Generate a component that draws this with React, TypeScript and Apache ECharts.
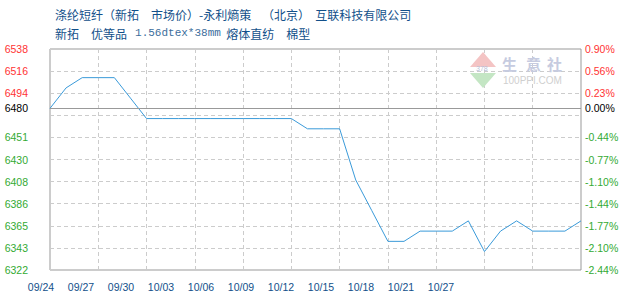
import React, { useEffect, useRef } from 'react';
import * as echarts from 'echarts';

const dates = [
  '09/24', '09/25', '09/26', '09/27', '09/28', '09/29', '09/30',
  '10/01', '10/02', '10/03', '10/04', '10/05', '10/06', '10/07', '10/08', '10/09',
  '10/10', '10/11', '10/12', '10/13', '10/14', '10/15', '10/16', '10/17', '10/18',
  '10/19', '10/20', '10/21', '10/22', '10/23', '10/24', '10/25', '10/26', '10/27',
];
const prices = [
  6480, 6500, 6510, 6510, 6510, 6490, 6470,
  6470, 6470, 6470, 6470, 6470, 6470, 6470, 6470, 6470,
  6460, 6460, 6460, 6410, 6380, 6350, 6350, 6360, 6360,
  6360, 6370, 6340, 6360, 6370, 6360, 6360, 6360, 6370,
];
const basePrice = 6480;
const yTicks = [6322, 6343.6, 6365.2, 6386.8, 6408.4, 6430, 6451.6, 6473.2, 6494.8, 6516.4, 6538];
const leftLabels = ['6322', '6343', '6365', '6386', '6408', '6430', '6451', '', '6494', '6516', '6538'];
const rightLabels = ['-2.44%', '-2.10%', '-1.77%', '-1.44%', '-1.10%', '-0.77%', '-0.44%', '', '0.23%', '0.56%', '0.90%'];
const xTickLabels = ['09/24', '09/27', '09/30', '10/03', '10/06', '10/09', '10/12', '10/15', '10/18', '10/21', '10/27'];
const titleLine1 = '涤纶短纤（新拓　市场价）-永利熵策    （北京）  互联科技有限公司';
const titleLine2 = '新拓　优等品   {m|1.56dtex*38mm}  熔体直纺　棉型';

export default function App() {
  const ref = useRef<HTMLDivElement>(null);
  useEffect(() => {
    document.body.style.margin = '0';
    const chart = echarts.init(ref.current!, null, { renderer: 'svg' });
    const labelFont = { fontSize: 10.5, fontFamily: 'Liberation Sans' };
    const findIdx = (v: number) => yTicks.findIndex((t) => Math.abs(t - Number(v)) < 0.01);
    const colorKey = (v: number) => (v > basePrice ? 'r' : v < basePrice ? 'g' : 'k');
    const rich = {
      r: { color: '#ff3333', ...labelFont },
      g: { color: '#33aa33', ...labelFont },
      k: { color: '#000000', ...labelFont },
    };
    chart.setOption({
      animation: false,
      title: {
        left: 50,
        top: 3,
        text: titleLine1,
        textStyle: { fontSize: 12, fontWeight: 'normal', color: '#12508a', fontFamily: 'Noto Sans CJK SC' },
        subtext: titleLine2,
        subtextStyle: {
          fontSize: 12,
          color: '#12508a',
          fontFamily: 'Noto Sans CJK SC',
          rich: {
            m: { fontSize: 11, fontFamily: 'Liberation Mono', color: '#3c6d9c' },
          },
        },
        itemGap: 7,
      },
      grid: [
        { left: 50, right: 49, top: 49, bottom: 30, show: true, borderColor: '#999', borderWidth: 1, backgroundColor: 'transparent' },
        { left: 41, width: 400, top: 269, height: 1 },
      ],
      xAxis: [
        {
          type: 'category',
          gridIndex: 0,
          data: dates,
          boundaryGap: false,
          axisLine: { show: false },
          axisTick: { show: false },
          axisLabel: { show: false },
          splitLine: { show: true, interval: 2, lineStyle: { color: '#cccccc', type: [4, 3], width: 1 } },
        },
        {
          type: 'category',
          gridIndex: 1,
          data: xTickLabels,
          boundaryGap: false,
          axisLine: { show: false },
          axisTick: { show: false },
          axisLabel: { interval: 0, margin: 11, color: '#12508a', ...labelFont },
          splitLine: { show: false },
        },
      ],
      yAxis: [
        {
          type: 'value',
          gridIndex: 0,
          min: 6322,
          max: 6538,
          position: 'left',
          axisLine: { show: false },
          axisTick: { show: false, customValues: yTicks },
          axisLabel: {
            customValues: yTicks,
            margin: 22,
            formatter: (v: number) => {
              const i = findIdx(v);
              const s = i >= 0 ? leftLabels[i] : '';
              return s ? `{${colorKey(v)}|${s}}` : '';
            },
            rich,
          },
          splitLine: { show: true, lineStyle: { color: '#cccccc', type: [4, 3], width: 1 } },
        },
        {
          type: 'value',
          gridIndex: 0,
          min: 6322,
          max: 6538,
          position: 'right',
          axisLine: { show: false },
          axisTick: { show: false, customValues: yTicks },
          axisLabel: {
            customValues: yTicks,
            margin: 4,
            formatter: (v: number) => {
              const i = findIdx(v);
              const s = i >= 0 ? rightLabels[i] : '';
              return s ? `{${colorKey(v)}|${s}}` : '';
            },
            rich,
          },
          splitLine: { show: false },
        },
        { type: 'value', gridIndex: 1, show: false },
      ],
      graphic: [
        { type: 'polygon', shape: { points: [[470, 67], [496, 67], [483, 52]] }, style: { fill: '#f4c4c4' }, z: 1 },
        { type: 'polygon', shape: { points: [[470, 73], [496, 73], [483, 88]] }, style: { fill: '#c4e6c4' }, z: 1 },
        { type: 'text', x: 476, y: 65, style: { text: '378', fill: '#b8c0d8', fontSize: 7, fontFamily: 'Liberation Sans' }, z: 1 },
        { type: 'text', x: 502, y: 56, style: { text: '生', fill: '#c6cbe0', fontSize: 15, fontWeight: 'bold', fontFamily: 'Noto Sans CJK SC' }, z: 1 },
        { type: 'text', x: 526, y: 56, style: { text: '意', fill: '#c6cbe0', fontSize: 15, fontWeight: 'bold', fontFamily: 'Noto Sans CJK SC' }, z: 1 },
        { type: 'text', x: 547, y: 56, style: { text: '社', fill: '#c6cbe0', fontSize: 15, fontWeight: 'bold', fontFamily: 'Noto Sans CJK SC' }, z: 1 },
        { type: 'text', x: 503, y: 75, style: { text: '100PPI.COM', fill: '#cfcfcf', fontSize: 10, fontFamily: 'Liberation Sans' }, z: 1 },
      ],
      series: [
        {
          type: 'line',
          xAxisIndex: 0,
          yAxisIndex: 0,
          data: prices,
          symbol: 'none',
          lineStyle: { color: '#3a9ad9', width: 1 },
          itemStyle: { color: '#3a9ad9' },
          z: 3,
          markLine: {
            silent: true,
            symbol: 'none',
            lineStyle: { color: '#999999', type: 'solid', width: 1 },
            label: { color: '#000000', ...labelFont },
            data: [
              { yAxis: basePrice, label: { position: 'start', distance: 22, formatter: String(basePrice) } },
              { yAxis: basePrice, label: { position: 'end', distance: 4, formatter: '0.00%' } },
            ],
          },
        },
      ],
    });
    return () => chart.dispose();
  }, []);
  return <div ref={ref} style={{ width: 630, height: 300 }} />;
}
